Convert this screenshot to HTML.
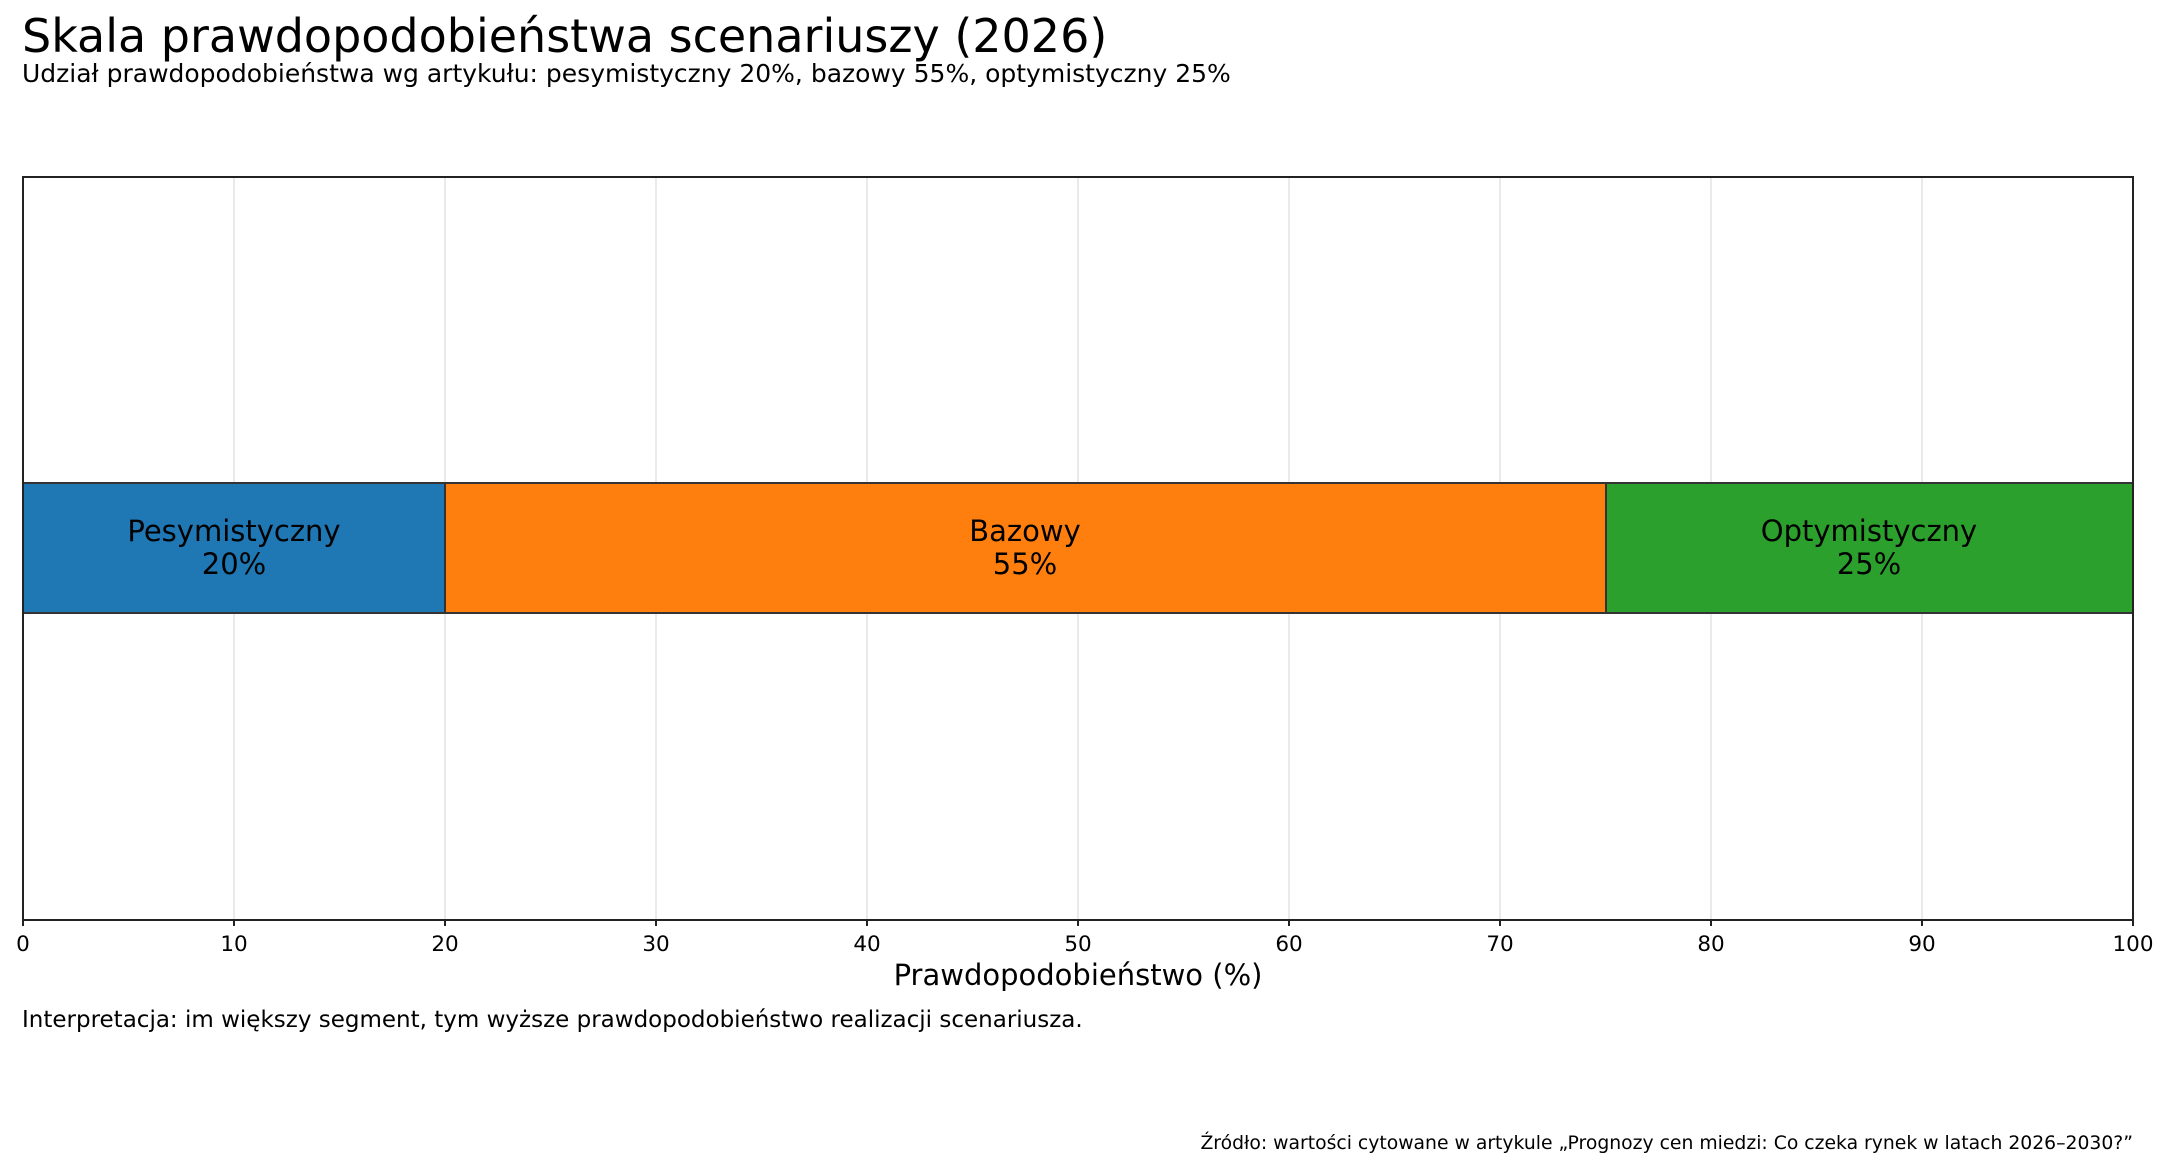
<!DOCTYPE html>
<html><head><meta charset="utf-8"><style>
html,body{margin:0;padding:0;background:#fff}
svg{display:block}
text{font-family:"DejaVu Sans","Liberation Sans",sans-serif;fill:#000}
</style></head><body>
<svg width="2168" height="1168" viewBox="0 0 2168 1168" xmlns="http://www.w3.org/2000/svg">
<text x="22" y="52" font-size="46">Skala prawdopodobieństwa scenariuszy (2026)</text>
<text x="22" y="82" font-size="25">Udział prawdopodobieństwa wg artykułu: pesymistyczny 20%, bazowy 55%, optymistyczny 25%</text>
<g stroke="#e3e3e3" stroke-width="1.5">
<line x1="234" y1="177" x2="234" y2="920"/><line x1="445" y1="177" x2="445" y2="920"/>
<line x1="656" y1="177" x2="656" y2="920"/><line x1="867" y1="177" x2="867" y2="920"/>
<line x1="1078" y1="177" x2="1078" y2="920"/><line x1="1289" y1="177" x2="1289" y2="920"/>
<line x1="1500" y1="177" x2="1500" y2="920"/><line x1="1711" y1="177" x2="1711" y2="920"/>
<line x1="1922" y1="177" x2="1922" y2="920"/>
</g>
<g stroke="#333" stroke-width="2">
<rect x="23" y="483" width="422" height="130" fill="#1f77b4"/>
<rect x="445" y="483" width="1161" height="130" fill="#ff7f0e"/>
<rect x="1606" y="483" width="527" height="130" fill="#2ca02c"/>
</g>
<g font-size="29" text-anchor="middle">
<text x="234" y="541">Pesymistyczny</text><text x="234" y="574">20%</text>
<text x="1025" y="541">Bazowy</text><text x="1025" y="574">55%</text>
<text x="1869" y="541">Optymistyczny</text><text x="1869" y="574">25%</text>
</g>
<rect x="23" y="177" width="2110" height="743" fill="none" stroke="#222" stroke-width="2"/>
<g stroke="#222" stroke-width="2">
<line x1="23" y1="920" x2="23" y2="926"/><line x1="234" y1="920" x2="234" y2="926"/>
<line x1="445" y1="920" x2="445" y2="926"/><line x1="656" y1="920" x2="656" y2="926"/>
<line x1="867" y1="920" x2="867" y2="926"/><line x1="1078" y1="920" x2="1078" y2="926"/>
<line x1="1289" y1="920" x2="1289" y2="926"/><line x1="1500" y1="920" x2="1500" y2="926"/>
<line x1="1711" y1="920" x2="1711" y2="926"/><line x1="1922" y1="920" x2="1922" y2="926"/>
<line x1="2133" y1="920" x2="2133" y2="926"/>
</g>
<g font-size="21.5" text-anchor="middle">
<text x="23" y="951">0</text><text x="234" y="951">10</text><text x="445" y="951">20</text>
<text x="656" y="951">30</text><text x="867" y="951">40</text><text x="1078" y="951">50</text>
<text x="1289" y="951">60</text><text x="1500" y="951">70</text><text x="1711" y="951">80</text>
<text x="1922" y="951">90</text><text x="2133" y="951">100</text>
</g>
<text x="1078" y="985" font-size="29" text-anchor="middle">Prawdopodobieństwo (%)</text>
<text x="22" y="1027" font-size="23">Interpretacja: im większy segment, tym wyższe prawdopodobieństwo realizacji scenariusza.</text>
<text x="2133" y="1149" font-size="18.8" text-anchor="end">Źródło: wartości cytowane w artykule „Prognozy cen miedzi: Co czeka rynek w latach 2026–2030?”</text>
</svg>
</body></html>
